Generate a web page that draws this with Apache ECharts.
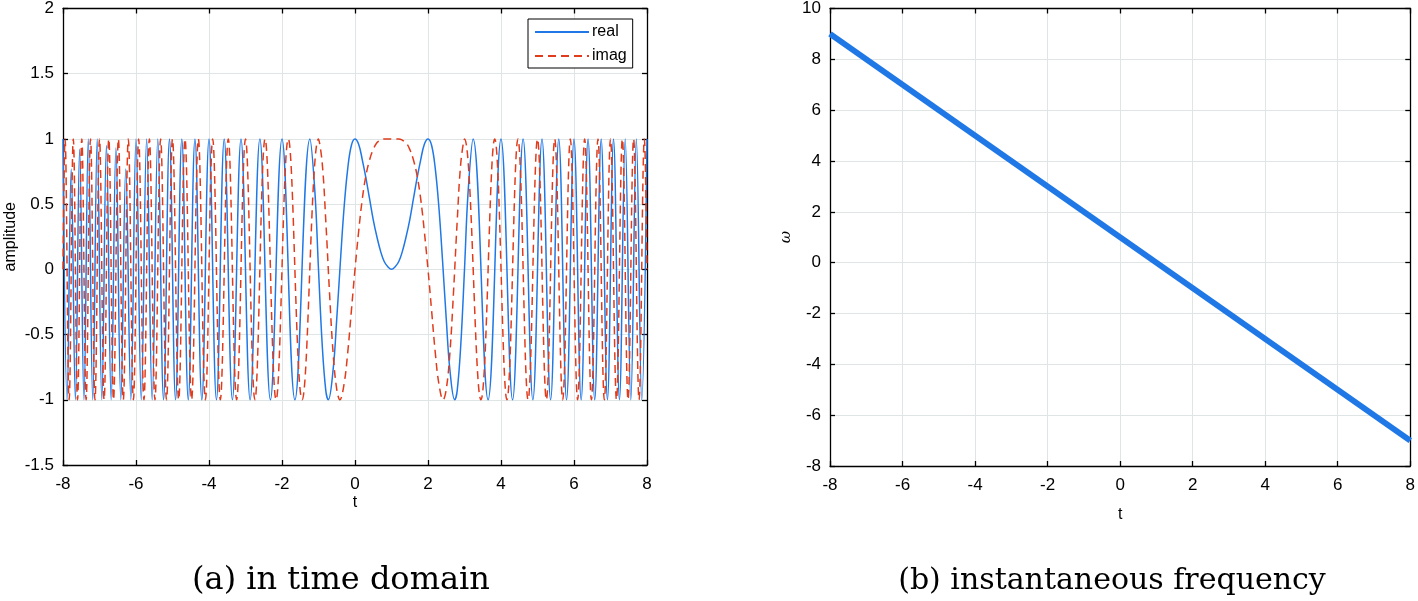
<!DOCTYPE html>
<html>
<head>
<meta charset="utf-8">
<script src="https://cdn.jsdelivr.net/npm/echarts@6/dist/echarts.min.js"></script>
<style>html,body{margin:0;padding:0;background:#fff;}#c{width:1418px;height:601px;}</style>
</head>
<body>
<div id="c"></div>
<script>
// ---- data ----
const realT = [-8,-7.888,-7.775,-7.66,-7.544,-7.426,-7.307,-7.185,-7.062,-6.937,-6.81,-6.681,-6.55,-6.416,-6.28,-6.141,-6,-5.856,-5.708,-5.557,-5.403,-5.245,-5.083,-4.916,-4.745,-4.568,-4.385,-4.196,-4,-3.796,-3.583,-3.359,-3.123,-2.873,-2.606,-2.317,-2,-1.646,-1.236,
  -1.1,-1,-0.9,-0.8,-0.732,-0.6,-0.5,-0.4,-0.3,-0.2,-0.1,0,0.1,0.2,0.3,0.4,0.5,0.6,0.7,0.8,0.9,1,1.1,1.2,1.3,1.4,1.5,1.6,1.7,1.8,1.9,2,2.1,2.2,2.3,2.4,2.5,2.6,2.732,2.8,2.9,3,3.1,
  3.236,3.646,4,4.317,4.606,4.873,5.123,5.359,5.583,5.796,6,6.196,6.385,6.568,6.745,6.916,7.083,7.245,7.403,7.557,7.708,7.856,8];
const realV = [1,-1,0.77,-1,0.92,-1,1,-1,1,-1,0.95,-1,0.93,-1,0.77,-1,1,-1,1,-1,1,-1,1,-1,1,-1,1,-1,1,-1,1,-1,1,-1,1,-1,1,-1,1,
  0.6,0,-0.57,-0.93,-1,-0.77,-0.38,0.06,0.47,0.77,0.95,1,0.96,0.84,0.7,0.54,0.38,0.25,0.14,0.06,0.02,0,0.02,0.06,0.14,0.25,0.38,0.54,0.7,0.84,0.96,1,0.95,0.77,0.47,0.06,-0.38,-0.77,-1,-0.93,-0.57,0,0.6,
  1,-1,1,-1,1,-1,1,-1,1,-1,1,-1,1,-1,1,-1,1,-1,1,-1,1,-1,1];
const imagT = [-8,-7.944,-7.832,-7.718,-7.602,-7.485,-7.367,-7.246,-7.124,-7,-6.874,-6.746,-6.616,-6.483,-6.348,-6.211,-6.071,-5.928,-5.782,-5.633,-5.481,-5.325,-5.164,-5,-4.831,-4.657,-4.477,-4.292,-4.099,-3.899,-3.69,-3.472,-3.243,-3,-2.742,-2.464,-2.162,-1.828,-1.449,
  -1,-0.9,-0.8,-0.7,-0.6,-0.5,-0.414,-0.3,-0.2,-0.1,0,0.1,0.2,0.3,0.4,0.5,0.6,0.7,0.8,0.9,1,1.1,1.2,1.3,1.4,1.5,1.6,1.7,1.8,1.9,2,2.1,2.2,2.3,2.414,2.5,2.6,2.7,2.8,2.9,3,
  3.449,3.828,4.162,4.464,4.742,5,5.243,5.472,5.69,5.899,6.099,6.292,6.477,6.657,6.831,7,7.164,7.325,7.481,7.633,7.782,7.928,8];
const imagV = [0,1,-1,1,-1,1,-1,1,-1,1,-1,1,-1,1,-1,1,-1,1,-1,1,-1,1,-1,1,-1,1,-1,1,-1,1,-1,1,-1,1,-1,1,-1,1,-1,
  1,0.82,0.37,-0.17,-0.64,-0.92,-1,-0.88,-0.64,-0.32,0,0.29,0.54,0.72,0.84,0.92,0.97,0.99,1,1,1,1,1,0.99,0.97,0.92,0.84,0.72,0.54,0.29,0,-0.32,-0.64,-0.88,-1,-0.92,-0.64,-0.17,0.37,0.82,1,
  -1,1,-1,1,-1,1,-1,1,-1,1,-1,1,-1,1,-1,1,-1,1,-1,1,-1,1,0];
const freqT = [-8, 8];
const freqW = [9, -7];
const captions = ['(a) in time domain', '(b) instantaneous frequency'];

const pairs = (xs, ys) => xs.map((x, i) => [x, ys[i]]);

const tickFont = {color:'#000', fontSize:17, fontFamily:'Liberation Sans'};
const gridLine = {show:true, lineStyle:{color:'#dfe5e5', width:1}};
const axLine = {show:true, onZero:false, lineStyle:{color:'#000', width:1.3}};
const tick = {show:true, inside:true, length:5, lineStyle:{color:'#000', width:1.3}};
const nameFont = {color:'#000', fontSize:16, fontFamily:'Liberation Sans'};

function xAxes(gi, name, gap) {
  return [
    {gridIndex:gi, type:'value', min:-8, max:8, interval:2, position:'bottom',
     axisLine:axLine, axisTick:tick, axisLabel:Object.assign({margin:11}, tickFont), splitLine:gridLine,
     name:name, nameLocation:'middle', nameGap:gap, nameMoveOverlap:false, nameTextStyle:nameFont},
    {gridIndex:gi, type:'value', min:-8, max:8, interval:2, position:'top',
     axisLine:axLine, axisTick:tick, axisLabel:{show:false}, splitLine:{show:false}}
  ];
}
function yAxes(gi, min, max, itv, name, nameStyle, gap) {
  return [
    {gridIndex:gi, type:'value', min:min, max:max, interval:itv, position:'left',
     axisLine:axLine, axisTick:tick, axisLabel:Object.assign({margin:9}, tickFont), splitLine:gridLine,
     name:name, nameLocation:'middle', nameGap:gap, nameMoveOverlap:false, nameTextStyle:nameStyle},
    {gridIndex:gi, type:'value', min:min, max:max, interval:itv, position:'right',
     axisLine:axLine, axisTick:tick, axisLabel:{show:false}, splitLine:{show:false}}
  ];
}

const chart = echarts.init(document.getElementById('c'), null, {renderer:'canvas'});
chart.setOption({
  animation:false,
  backgroundColor:'#fff',
  grid:[
    {left:63, top:5, width:584, height:460, show:false},
    {left:830, top:5, width:583, height:461, show:false}
  ],
  xAxis: xAxes(0, 't', 30).concat(xAxes(1, 't', 41)),
  yAxis: yAxes(0, -1.5, 2, 0.5, 'amplitude', nameFont, 44)
    .concat(yAxes(1, -8, 10, 2, 'ω', {color:'#000', fontSize:15, fontStyle:'italic', fontFamily:'DejaVu Serif'}, 36)),
  legend:{
    data:['real','imag'], orient:'vertical', left:528, top:19,
    backgroundColor:'#fff', borderColor:'#000', borderWidth:1, borderRadius:0,
    padding:[5,6,4,6], itemGap:8, itemWidth:54, itemHeight:14,
    itemStyle:{opacity:0},
    textStyle:{color:'#000', fontSize:16, fontFamily:'Liberation Sans', padding:[0,0,0,-2]}
  },
  series:[
    {name:'real', type:'line', xAxisIndex:0, yAxisIndex:0, data:pairs(realT, realV),
     symbol:'none', smooth:0.4, color:'#1f78e6',
     lineStyle:{color:'#1f78e6', width:1.5}},
    {name:'imag', type:'line', xAxisIndex:0, yAxisIndex:0, data:pairs(imagT, imagV),
     symbol:'none', smooth:0.4, color:'#e03c1c',
     lineStyle:{color:'#e03c1c', width:1.5, type:[8,5]}},
    {name:'freq', type:'line', xAxisIndex:2, yAxisIndex:2, data:pairs(freqT, freqW),
     symbol:'none', color:'#1f78e6', lineStyle:{color:'#1f78e6', width:6}}
  ],
  graphic:[
    {type:'text', x:341, y:581, style:{text:captions[0], font:'32px "DejaVu Serif"', fill:'#000', align:'center', verticalAlign:'middle'}},
    {type:'text', x:1112, y:581, style:{text:captions[1], font:'30px "DejaVu Serif"', fill:'#000', align:'center', verticalAlign:'middle'}}
  ]
});
</script>
</body>
</html>
